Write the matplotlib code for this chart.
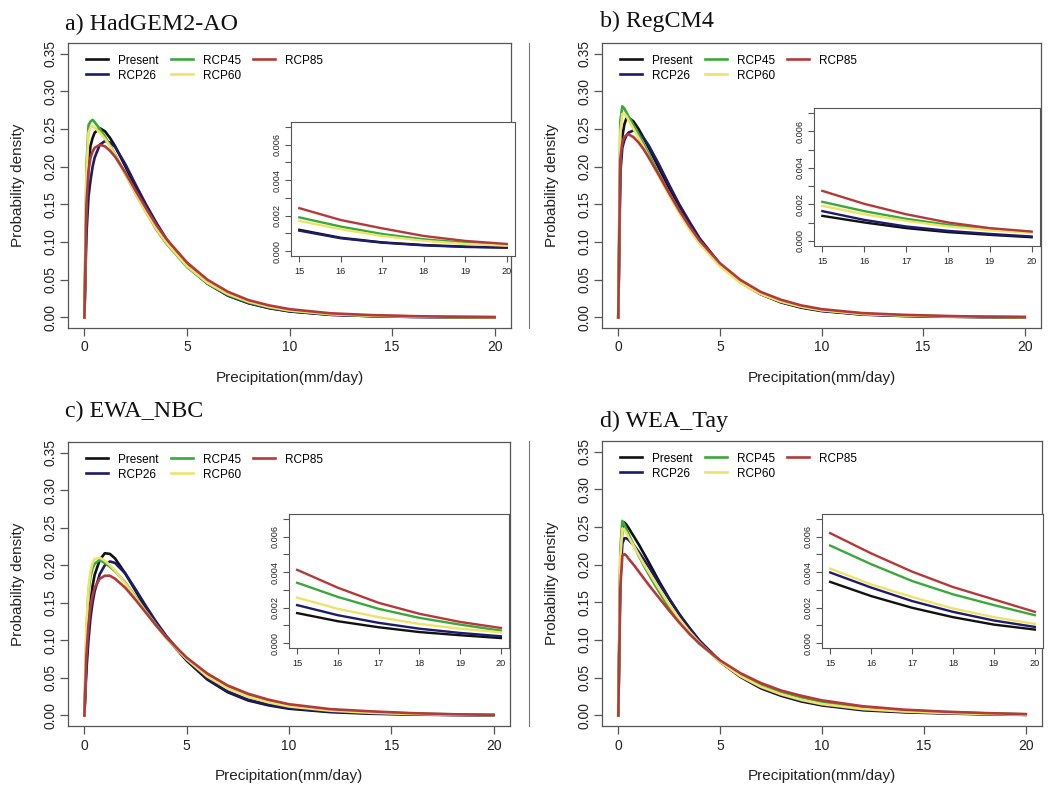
import matplotlib
matplotlib.use("Agg")
import matplotlib.pyplot as plt
from matplotlib.lines import Line2D

plt.rcParams['font.family'] = ['Liberation Sans', 'DejaVu Sans']

series_names = ["Present", "RCP26", "RCP45", "RCP60", "RCP85"]
series_colors = ["#111111", "#1c1c6b", "#3aa83a", "#eee26a", "#b23a3a"]
panel_titles = ["a) HadGEM2-AO", "b) RegCM4", "c) EWA_NBC", "d) WEA_Tay"]

# main curves x grid (mm/day)
precip = [0, 0.1, 0.2, 0.3, 0.4, 0.5, 0.75, 1, 1.25, 1.5, 2, 2.5, 3, 3.5, 4,
          5, 6, 7, 8, 9, 10, 12, 14, 16, 18, 20]
# inset x grid
precip_tail = [15, 16, 17, 18, 19, 20]

# a) HadGEM2-AO
had_present = [0, 0.14, 0.205, 0.228, 0.238, 0.245, 0.251, 0.247, 0.238, 0.227, 0.200, 0.172, 0.146, 0.122, 0.101,
               0.068, 0.045, 0.029, 0.019, 0.0125, 0.0082, 0.0036, 0.0017, 0.00075, 0.00034, 0.0002]
had_rcp26 = [0, 0.11, 0.16, 0.182, 0.2, 0.212, 0.229, 0.234, 0.232, 0.226, 0.203, 0.176, 0.15, 0.126, 0.104,
             0.069, 0.045, 0.029, 0.019, 0.0124, 0.008, 0.0035, 0.0018, 0.00072, 0.00032, 0.00019]
had_rcp45 = [0, 0.2, 0.255, 0.26, 0.262, 0.259, 0.25, 0.24, 0.228, 0.216, 0.19, 0.164, 0.14, 0.117, 0.098,
             0.067, 0.045, 0.03, 0.02, 0.0135, 0.009, 0.0044, 0.0024, 0.00138, 0.00066, 0.00034]
had_rcp60 = [0, 0.19, 0.245, 0.252, 0.254, 0.252, 0.245, 0.237, 0.227, 0.215, 0.19, 0.164, 0.14, 0.118, 0.099,
             0.068, 0.046, 0.031, 0.021, 0.014, 0.0093, 0.0043, 0.0022, 0.00123, 0.00058, 0.0003]
had_rcp85 = [0, 0.15, 0.195, 0.212, 0.22, 0.225, 0.229, 0.227, 0.221, 0.213, 0.192, 0.168, 0.145, 0.123, 0.104,
             0.073, 0.05, 0.034, 0.023, 0.016, 0.011, 0.0055, 0.0031, 0.00175, 0.00085, 0.0004]
had_tail_present = [0.0012, 0.00075, 0.00049, 0.00034, 0.00025, 0.0002]
had_tail_rcp26 = [0.00115, 0.00072, 0.00047, 0.00032, 0.00023, 0.00019]
had_tail_rcp45 = [0.0019, 0.00138, 0.00096, 0.00066, 0.00047, 0.00034]
had_tail_rcp60 = [0.0017, 0.00123, 0.00085, 0.00058, 0.0004, 0.0003]
had_tail_rcp85 = [0.00242, 0.00175, 0.00128, 0.00085, 0.00057, 0.0004]

# b) RegCM4
reg_present = [0, 0.2, 0.24, 0.256, 0.264, 0.265, 0.26, 0.25, 0.238, 0.225, 0.198, 0.172, 0.148, 0.125, 0.104,
               0.071, 0.047, 0.031, 0.02, 0.013, 0.0085, 0.0038, 0.0019, 0.00101, 0.00048, 0.0002]
reg_rcp26 = [0, 0.19, 0.225, 0.235, 0.241, 0.245, 0.248, 0.245, 0.238, 0.228, 0.203, 0.176, 0.15, 0.127, 0.105,
             0.071, 0.047, 0.031, 0.0205, 0.0135, 0.009, 0.0041, 0.0022, 0.00115, 0.00055, 0.00024]
reg_rcp45 = [0, 0.26, 0.28, 0.277, 0.272, 0.267, 0.255, 0.243, 0.23, 0.217, 0.19, 0.164, 0.14, 0.118, 0.099,
             0.069, 0.047, 0.032, 0.0215, 0.0145, 0.0098, 0.0048, 0.0028, 0.00163, 0.00088, 0.00048]
reg_rcp60 = [0, 0.245, 0.27, 0.27, 0.267, 0.262, 0.25, 0.238, 0.226, 0.213, 0.187, 0.162, 0.139, 0.117, 0.098,
             0.068, 0.046, 0.031, 0.021, 0.0142, 0.0095, 0.0045, 0.0026, 0.00146, 0.00079, 0.00044]
reg_rcp85 = [0, 0.21, 0.232, 0.239, 0.242, 0.243, 0.239, 0.232, 0.223, 0.212, 0.189, 0.165, 0.142, 0.121, 0.102,
             0.072, 0.05, 0.034, 0.0235, 0.016, 0.011, 0.0058, 0.0035, 0.00203, 0.00101, 0.00051]
reg_tail_present = [0.00137, 0.00101, 0.0007, 0.00048, 0.00033, 0.0002]
reg_tail_rcp26 = [0.00163, 0.00115, 0.00079, 0.00055, 0.00038, 0.00024]
reg_tail_rcp45 = [0.00214, 0.00163, 0.00121, 0.00088, 0.00064, 0.00048]
reg_tail_rcp60 = [0.00192, 0.00146, 0.0011, 0.00079, 0.00058, 0.00044]
reg_tail_rcp85 = [0.00274, 0.00203, 0.00146, 0.00101, 0.0007, 0.00051]

# c) EWA_NBC
ewa_present = [0, 0.07, 0.12, 0.15, 0.172, 0.187, 0.207, 0.216, 0.215, 0.209, 0.189, 0.166, 0.143, 0.123, 0.104,
               0.073, 0.048, 0.031, 0.02, 0.0135, 0.009, 0.0045, 0.0023, 0.00123, 0.00062, 0.00028]
ewa_rcp26 = [0, 0.06, 0.1, 0.13, 0.15, 0.165, 0.188, 0.2, 0.205, 0.203, 0.189, 0.168, 0.146, 0.125, 0.106,
             0.074, 0.049, 0.032, 0.021, 0.0145, 0.0098, 0.0052, 0.0029, 0.00157, 0.00081, 0.00038]
ewa_rcp45 = [0, 0.11, 0.165, 0.185, 0.196, 0.202, 0.207, 0.203, 0.198, 0.192, 0.177, 0.158, 0.139, 0.121, 0.104,
             0.076, 0.054, 0.038, 0.027, 0.019, 0.0135, 0.0075, 0.0045, 0.0026, 0.00142, 0.0007]
ewa_rcp60 = [0, 0.12, 0.17, 0.192, 0.203, 0.208, 0.21, 0.206, 0.2, 0.193, 0.176, 0.157, 0.138, 0.12, 0.103,
             0.075, 0.052, 0.036, 0.025, 0.0175, 0.012, 0.0065, 0.0036, 0.00193, 0.00108, 0.0006]
ewa_rcp85 = [0, 0.08, 0.12, 0.145, 0.16, 0.17, 0.182, 0.186, 0.186, 0.182, 0.17, 0.154, 0.137, 0.12, 0.104,
             0.077, 0.056, 0.04, 0.029, 0.021, 0.015, 0.0085, 0.0055, 0.00312, 0.00165, 0.00085]
ewa_tail_present = [0.00169, 0.00123, 0.00089, 0.00062, 0.00044, 0.00028]
ewa_tail_rcp26 = [0.00214, 0.00157, 0.00114, 0.00081, 0.00057, 0.00038]
ewa_tail_rcp45 = [0.0034, 0.0026, 0.00193, 0.00142, 0.00104, 0.0007]
ewa_tail_rcp60 = [0.00256, 0.00193, 0.00146, 0.00108, 0.00081, 0.0006]
ewa_tail_rcp85 = [0.00413, 0.00312, 0.00227, 0.00165, 0.00119, 0.00085]

# d) WEA_Tay
wea_present = [0, 0.2, 0.25, 0.256, 0.253, 0.249, 0.238, 0.227, 0.215, 0.203, 0.178, 0.155, 0.134, 0.115, 0.098,
               0.071, 0.051, 0.036, 0.026, 0.0185, 0.0133, 0.0069, 0.0042, 0.00265, 0.00146, 0.00076]
wea_rcp26 = [0, 0.18, 0.228, 0.235, 0.235, 0.233, 0.226, 0.217, 0.207, 0.197, 0.175, 0.154, 0.134, 0.116, 0.099,
             0.072, 0.052, 0.037, 0.027, 0.0195, 0.014, 0.0077, 0.0048, 0.00313, 0.00176, 0.00091]
wea_rcp45 = [0, 0.22, 0.258, 0.253, 0.247, 0.241, 0.226, 0.212, 0.199, 0.187, 0.164, 0.143, 0.125, 0.109, 0.095,
             0.072, 0.054, 0.041, 0.031, 0.024, 0.018, 0.0108, 0.0068, 0.00445, 0.00275, 0.00157]
wea_rcp60 = [0, 0.21, 0.248, 0.246, 0.242, 0.237, 0.225, 0.213, 0.201, 0.19, 0.168, 0.147, 0.128, 0.111, 0.096,
             0.071, 0.052, 0.038, 0.028, 0.0205, 0.015, 0.0085, 0.0053, 0.00331, 0.00195, 0.00108]
wea_rcp85 = [0, 0.17, 0.212, 0.214, 0.212, 0.208, 0.2, 0.191, 0.182, 0.173, 0.156, 0.139, 0.123, 0.108, 0.095,
             0.073, 0.056, 0.043, 0.033, 0.026, 0.02, 0.0122, 0.0077, 0.00506, 0.00316, 0.00176]
wea_tail_present = [0.00345, 0.00265, 0.00199, 0.00146, 0.00104, 0.00076]
wea_tail_rcp26 = [0.00398, 0.00313, 0.00237, 0.00176, 0.00127, 0.00091]
wea_tail_rcp45 = [0.0055, 0.00445, 0.0035, 0.00275, 0.00214, 0.00157]
wea_tail_rcp60 = [0.0042, 0.00331, 0.0026, 0.00195, 0.00146, 0.00108]
wea_tail_rcp85 = [0.0062, 0.00506, 0.00403, 0.00316, 0.00246, 0.00176]

main_curves = [
    [had_present, had_rcp26, had_rcp45, had_rcp60, had_rcp85],
    [reg_present, reg_rcp26, reg_rcp45, reg_rcp60, reg_rcp85],
    [ewa_present, ewa_rcp26, ewa_rcp45, ewa_rcp60, ewa_rcp85],
    [wea_present, wea_rcp26, wea_rcp45, wea_rcp60, wea_rcp85],
]
tail_curves = [
    [had_tail_present, had_tail_rcp26, had_tail_rcp45, had_tail_rcp60, had_tail_rcp85],
    [reg_tail_present, reg_tail_rcp26, reg_tail_rcp45, reg_tail_rcp60, reg_tail_rcp85],
    [ewa_tail_present, ewa_tail_rcp26, ewa_tail_rcp45, ewa_tail_rcp60, ewa_tail_rcp85],
    [wea_tail_present, wea_tail_rcp26, wea_tail_rcp45, wea_tail_rcp60, wea_tail_rcp85],
]

W, H = 1057, 789
fig = plt.figure(figsize=(W / 100, H / 100), dpi=100)


def px_box(left, top, right, bottom):
    return [left / W, 1 - bottom / H, (right - left) / W, (bottom - top) / H]


main_boxes = [(68, 43, 511, 328), (602, 43, 1041, 328), (68, 442, 510, 726), (602, 441, 1042, 726)]
inset_boxes = [(291, 122, 515, 256), (814, 108, 1040, 246), (289, 514, 509, 648), (822, 514, 1043, 648)]
title_pos = [(65, 30), (600, 27), (65, 417), (600, 427)]

spine_col = "#555555"
text_col = "#222222"

for k in range(4):
    ax = fig.add_axes(px_box(*main_boxes[k]))
    for vals, col, name in zip(main_curves[k], series_colors, series_names):
        ax.plot(precip, vals, color=col, lw=1.9, label=name, solid_joinstyle="round")
    ax.set_xlim(-0.8, 20.8)
    ax.set_ylim(-0.014, 0.364)
    ax.set_xticks([0, 5, 10, 15, 20])
    ax.set_yticks([0, 0.05, 0.10, 0.15, 0.20, 0.25, 0.30, 0.35])
    ax.set_yticklabels(["%.2f" % v for v in ax.get_yticks()], rotation=90, va="center")
    ax.tick_params(length=6, width=0.9, color=spine_col, labelsize=10, labelcolor=text_col)
    ax.tick_params(axis="x", pad=3)
    ax.tick_params(axis="y", pad=1.5)
    for s in ax.spines.values():
        s.set_color(spine_col)
        s.set_linewidth(0.9)
    ax.set_xlabel("Precipitation(mm/day)", fontsize=11, color=text_col, va="center")
    ax.set_ylabel("Probability density", fontsize=11, color=text_col, va="center")
    ax.xaxis.set_label_coords(0.5, -0.175)
    ax.yaxis.set_label_coords(-0.113, 0.5)
    ax.legend(loc="upper left", bbox_to_anchor=(0.027, 0.98), ncol=3, frameon=False,
              fontsize=8.5, borderpad=0, handlelength=1.9, handletextpad=0.85,
              columnspacing=1.0, labelspacing=0.25)

    tx, ty = title_pos[k]
    fig.text(tx / W, 1 - ty / H, panel_titles[k], family="Liberation Serif",
             fontsize=17.3, va="baseline", ha="left", color="#111111")

    ins = fig.add_axes(px_box(*inset_boxes[k]))
    for vals, col in zip(tail_curves[k], series_colors):
        ins.plot(precip_tail, vals, color=col, lw=1.7)
    ins.set_xlim(14.8, 20.2)
    ins.set_ylim(-0.00028, 0.00728)
    ins.set_xticks(precip_tail)
    ins.set_yticks([0, 0.001, 0.002, 0.003, 0.004, 0.005, 0.006, 0.007])
    ins.set_yticklabels(["0.000", "", "0.002", "", "0.004", "", "0.006", ""], rotation=90, va="center")
    ins.tick_params(length=4.5, width=0.8, color=spine_col, labelsize=6.6, labelcolor=text_col)
    ins.tick_params(axis="x", pad=3.5)
    ins.tick_params(axis="y", pad=2.5)
    for s in ins.spines.values():
        s.set_color(spine_col)
        s.set_linewidth(0.8)

# thin edge line between the left and right panels
for y0, y1 in [(43, 328), (441, 726)]:
    fig.add_artist(Line2D([529 / W, 529 / W], [1 - y1 / H, 1 - y0 / H], color="#777777", lw=0.8))

fig.savefig("out.png", dpi=100)
